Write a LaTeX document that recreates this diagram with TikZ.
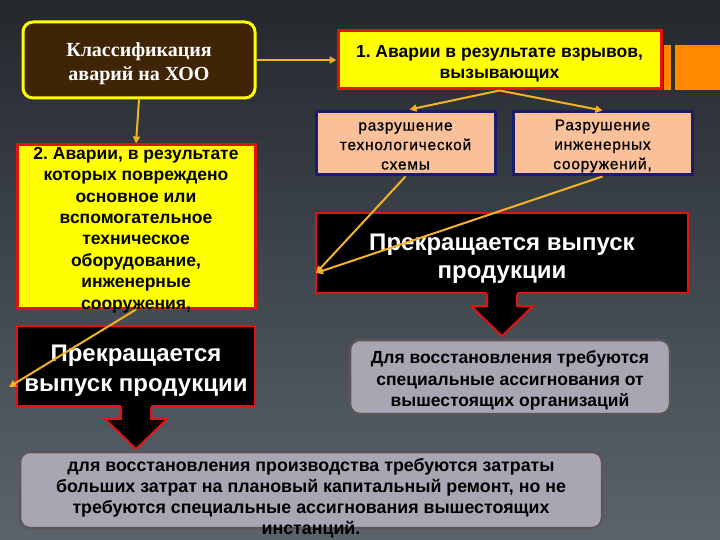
\documentclass[tikz,border=0pt]{standalone}
\usepackage{fontspec}
\setmainfont{Liberation Serif}
\newfontfamily\ars{Liberation Sans}
\newfontfamily\arsl[LetterSpace=5,FakeBold=0.8]{Liberation Sans}
\usetikzlibrary{calc,arrows.meta}
\frenchspacing
\definecolor{bgtop}{HTML}{23282D}
\definecolor{bgbot}{HTML}{5B646D}
\definecolor{conn}{HTML}{F5B324}
\definecolor{barorange}{HTML}{FF8A00}
\definecolor{yel}{HTML}{FFFF00}
\definecolor{redb}{HTML}{E51010}
\definecolor{peach}{HTML}{FAC09A}
\definecolor{navy}{HTML}{1C1C6E}
\definecolor{grayfill}{HTML}{A9A6B3}
\definecolor{grayline}{HTML}{5E5558}
\definecolor{brownfill}{HTML}{3F2506}
\tikzset{
  box/.style={rectangle, inner sep=0pt},
  yellowbox/.style={box, fill=yel, draw=redb, line width=3pt},
  peachbox/.style={box, fill=peach, draw=navy, line width=3pt},
  blackbox/.style={box, fill=black, draw=redb, line width=2pt},
  graybox/.style={box, fill=grayfill, draw=grayline, line width=2.5pt, rounded corners=10pt},
  conline/.style={draw=conn, line width=2pt, -{Triangle[width=7pt,length=7pt]}},
  txt/.style={inner sep=0pt, align=center},
  yeltxt/.style={txt, text=black, font=\ars\bfseries\fontsize{17.5}{21.4}\selectfont\frenchspacing},
  peachtxt/.style={txt, text=black, font=\arsl\fontsize{15.5}{19.5}\selectfont},
  blacktxt/.style={txt, text=white, font=\ars\bfseries\fontsize{24}{28}\selectfont},
  graytxt/.style={txt, text=black, font=\ars\bfseries\fontsize{17.5}{21.5}\selectfont}
}
\newcommand{\blkarrow}[1]{%
  \fill[black] ($(#1)+(-15,-2)$) -- ($(#1)+(-15,12)$) -- ($(#1)+(-31,12)$) --
    ($(#1)+(0,42)$) -- ($(#1)+(31,12)$) -- ($(#1)+(15,12)$) -- ($(#1)+(15,-2)$) -- cycle;
  \draw[redb, line width=2pt, line join=miter] ($(#1)+(-15,0)$) -- ($(#1)+(-15,12)$) -- ($(#1)+(-31,12)$) --
    ($(#1)+(0,42)$) -- ($(#1)+(31,12)$) -- ($(#1)+(15,12)$) -- ($(#1)+(15,0)$);
}
\begin{document}
\begin{tikzpicture}[x=1pt,y=-1pt]
\useasboundingbox (0,0) rectangle (720,540);
\shade[top color=bgtop, bottom color=bgbot] (0,0) rectangle (720,540);
% decorative bars
\fill[barorange] (664,45) rectangle (671,90);
\fill[barorange] (675,45) rectangle (720,90);

\node[box, fill=brownfill, draw=yel, line width=3pt, rounded corners=10pt,
  minimum width=232pt, minimum height=76pt] (cls) at (139,60) {};
\node[txt, text=white, font=\bfseries\fontsize{20}{24}\selectfont] (clst)
  at ($(cls.center)+(0,4)$) {Классификация\\аварий на ХОО};

\node[yellowbox, minimum width=323pt, minimum height=58pt] (b1) at (499.5,60) {};
\node[yeltxt, font=\ars\bfseries\fontsize{17.5}{21}\selectfont\frenchspacing] (b1t) at ($(b1.center)+(0,4)$)
  {1. Аварии в результате взрывов,\\вызывающих};

\node[yellowbox, minimum width=238pt, minimum height=163pt] (b2) at (136,226.5) {};
\node[yeltxt] (b2t) at ($(b2.center)+(0,3.5)$)
  {2. Аварии, в результате\\которых повреждено\\основное или\\вспомогательное\\техническое\\оборудование,\\инженерные\\сооружения,};

\node[peachbox, minimum width=179pt, minimum height=63pt] (p1) at (405.5,143.5) {};
\node[peachtxt] (p1t) at ($(p1.center)+(0,2.5)$) {разрушение\\технологической\\схемы};
\node[peachbox, minimum width=179pt, minimum height=63pt] (p2) at (602.5,143.5) {};
\node[peachtxt] (p2t) at ($(p2.center)+(0,2.5)$) {Разрушение\\инженерных\\сооружений,};

\node[blackbox, minimum width=372pt, minimum height=80pt] (k1) at (502,253) {};
\node[blacktxt] (k1t) at ($(k1.center)+(0,5.5)$) {Прекращается выпуск\\продукции};
\node[blackbox, minimum width=238pt, minimum height=80pt] (k2) at (136,366) {};
\node[blacktxt, font=\ars\bfseries\fontsize{24}{30}\selectfont] (k2t)
  at ($(k2.center)+(0,5)$) {Прекращается\\выпуск продукции};

\blkarrow{k1.south}
\blkarrow{k2.south}

\node[graybox, minimum width=320pt, minimum height=74pt] (g1) at (510,377) {};
\node[graytxt] (g1t) at ($(g1.center)+(0,3.5)$)
  {Для восстановления требуются\\специальные ассигнования от\\вышестоящих организаций};

\node[graybox, minimum width=582pt, minimum height=76pt] (g2) at (311,490) {};
\node[graytxt, font=\ars\bfseries\fontsize{17.8}{21}\selectfont\frenchspacing] (g2t) at ($(g2.center)+(0,8)$)
  {для восстановления производства требуются затраты\\больших затрат на плановый капитальный ремонт, но не\\требуются специальные ассигнования вышестоящих\\инстанций.};

% connectors
\coordinate (k1in) at ($(k1.south west)+(1,-21)$);
\coordinate (k2in) at ($(k2.west)+(-7,21)$);
\draw[conline] (cls.east) -- (b1.west);
\draw[conline] (cls.south) -- (b2.north);
\draw[conline] (b1.south) -- ($(p1.north)+(4,-1)$);
\draw[conline] (b1.south) -- (p2.north);
\draw[conline] (p1.south) -- (k1in);
\draw[conline] (p2.south) -- (k1in);
\draw[conline] (b2.south) -- (k2in);
\end{tikzpicture}
\end{document}
